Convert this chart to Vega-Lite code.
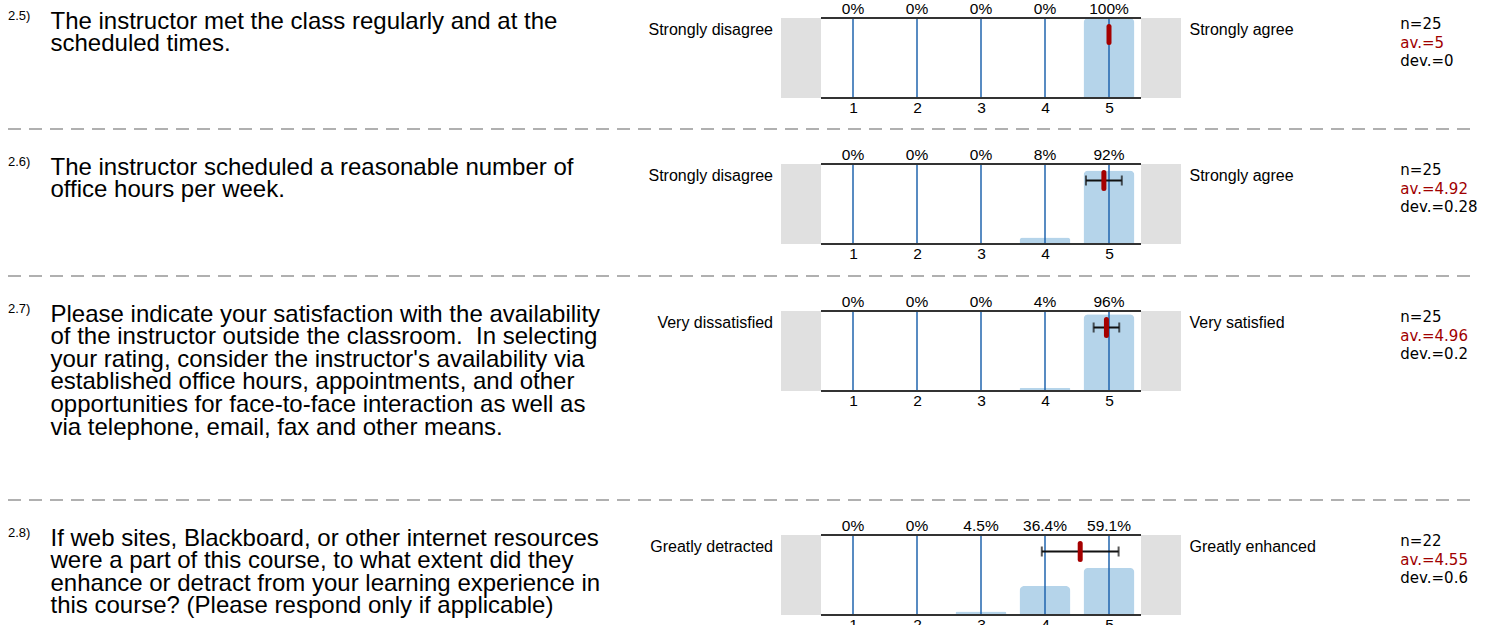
{
  "$schema": "https://vega.github.io/schema/vega-lite/v6.json",
  "padding": 0,
  "background": "#ffffff",
  "config": {"view": {"stroke": null}, "font": "Liberation Sans"},
  "datasets": {
    "questions": [
      {"q": "2.5", "num": "2.5)", "lines": ["The instructor met the class regularly and at the", "scheduled times."], "low": "Strongly disagree", "high": "Strongly agree", "nLabel": "n=25", "avLabel": "av.=5", "devLabel": "dev.=0", "av": 5, "dev": 0},
      {"q": "2.6", "num": "2.6)", "lines": ["The instructor scheduled a reasonable number of", "office hours per week."], "low": "Strongly disagree", "high": "Strongly agree", "nLabel": "n=25", "avLabel": "av.=4.92", "devLabel": "dev.=0.28", "av": 4.92, "dev": 0.28},
      {"q": "2.7", "num": "2.7)", "lines": ["Please indicate your satisfaction with the availability", "of the instructor outside the classroom.\u00a0 In selecting", "your rating, consider the instructor's availability via", "established office hours, appointments, and other", "opportunities for face-to-face interaction as well as", "via telephone, email, fax and other means."], "low": "Very dissatisfied", "high": "Very satisfied", "nLabel": "n=25", "avLabel": "av.=4.96", "devLabel": "dev.=0.2", "av": 4.96, "dev": 0.2},
      {"q": "2.8", "num": "2.8)", "lines": ["If web sites, Blackboard, or other internet resources", "were a part of this course, to what extent did they", "enhance or detract from your learning experience in", "this course? (Please respond only if applicable)"], "low": "Greatly detracted", "high": "Greatly enhanced", "nLabel": "n=22", "avLabel": "av.=4.55", "devLabel": "dev.=0.6", "av": 4.55, "dev": 0.6}
    ],
    "dist": [
      {"q": "2.5", "rating": 1, "pct": 0, "label": "0%"},
      {"q": "2.5", "rating": 2, "pct": 0, "label": "0%"},
      {"q": "2.5", "rating": 3, "pct": 0, "label": "0%"},
      {"q": "2.5", "rating": 4, "pct": 0, "label": "0%"},
      {"q": "2.5", "rating": 5, "pct": 100, "label": "100%"},
      {"q": "2.6", "rating": 1, "pct": 0, "label": "0%"},
      {"q": "2.6", "rating": 2, "pct": 0, "label": "0%"},
      {"q": "2.6", "rating": 3, "pct": 0, "label": "0%"},
      {"q": "2.6", "rating": 4, "pct": 8, "label": "8%"},
      {"q": "2.6", "rating": 5, "pct": 92, "label": "92%"},
      {"q": "2.7", "rating": 1, "pct": 0, "label": "0%"},
      {"q": "2.7", "rating": 2, "pct": 0, "label": "0%"},
      {"q": "2.7", "rating": 3, "pct": 0, "label": "0%"},
      {"q": "2.7", "rating": 4, "pct": 4, "label": "4%"},
      {"q": "2.7", "rating": 5, "pct": 96, "label": "96%"},
      {"q": "2.8", "rating": 1, "pct": 0, "label": "0%"},
      {"q": "2.8", "rating": 2, "pct": 0, "label": "0%"},
      {"q": "2.8", "rating": 3, "pct": 4.5, "label": "4.5%"},
      {"q": "2.8", "rating": 4, "pct": 36.4, "label": "36.4%"},
      {"q": "2.8", "rating": 5, "pct": 59.1, "label": "59.1%"}
    ]
  },
  "spacing": 0,
  "bounds": "full",
  "vconcat": [
    {
      "spacing": 0, "bounds": "full",
      "hconcat": [
        {
          "width": 780, "height": 128,
          "data": {"name": "questions"}, "transform": [{"filter": "datum.q === '2.5'"}],
          "layer": [
            {"mark": {"type": "text", "align": "left", "baseline": "alphabetic", "fontSize": 13, "color": "#000000"}, "encoding": {"x": {"value": 7}, "y": {"value": 20}, "text": {"field": "num", "type": "nominal"}}},
            {"mark": {"type": "text", "align": "left", "baseline": "alphabetic", "fontSize": 24, "lineHeight": 22.6, "color": "#000000"}, "encoding": {"x": {"value": 49.5}, "y": {"value": 28.7}, "text": {"field": "lines", "type": "nominal"}}},
            {"mark": {"type": "text", "align": "right", "baseline": "alphabetic", "fontSize": 16, "color": "#000000"}, "encoding": {"x": {"value": 772}, "y": {"value": 35}, "text": {"field": "low", "type": "nominal"}}}
          ]
        },
        {
          "spacing": 0, "bounds": "flush",
          "vconcat": [
            {
              "width": 400, "height": 17.5,
              "data": {"name": "dist"}, "transform": [{"filter": "datum.q === '2.5'"}],
              "mark": {"type": "text", "align": "center", "baseline": "alphabetic", "fontSize": 15.5, "color": "#000000"},
              "encoding": {"x": {"field": "rating", "type": "quantitative", "scale": {"domain": [-0.125, 6.125], "nice": false, "zero": false, "padding": 0}, "axis": null}, "y": {"value": 13.5}, "text": {"field": "label", "type": "nominal"}}
            },
            {
              "width": 400, "height": 80,
              "view": {"fill": "#e0e0e0", "stroke": null},
              "layer": [
                {"data": {"name": "questions"}, "transform": [{"filter": "datum.q === '2.5'"}], "mark": {"type": "rect", "color": "#ffffff"}, "encoding": {"x": {"datum": 0.5, "type": "quantitative", "scale": {"domain": [-0.125, 6.125], "nice": false, "zero": false, "padding": 0}, "axis": {"values": [1, 2, 3, 4, 5], "domain": false, "ticks": false, "tickSize": 0, "grid": false, "labelFontSize": 15.5, "labelColor": "#000000", "labelPadding": 2, "labelFlush": false, "labelOverlap": false, "title": null, "format": "d"}}, "x2": {"datum": 5.5}, "y": {"datum": 0, "type": "quantitative", "scale": {"domain": [0, 100], "nice": false}, "axis": null}, "y2": {"datum": 100}}},
                {"data": {"name": "dist"}, "transform": [{"filter": "datum.q === '2.5'"}], "mark": {"type": "bar", "width": 51, "color": "#b5d4ea", "cornerRadiusTopLeft": 5, "cornerRadiusTopRight": 5}, "encoding": {"x": {"field": "rating", "type": "quantitative", "scale": {"domain": [-0.125, 6.125], "nice": false, "zero": false, "padding": 0}, "axis": {"values": [1, 2, 3, 4, 5], "domain": false, "ticks": false, "tickSize": 0, "grid": false, "labelFontSize": 15.5, "labelColor": "#000000", "labelPadding": 2, "labelFlush": false, "labelOverlap": false, "title": null, "format": "d"}}, "y": {"field": "pct", "type": "quantitative", "scale": {"domain": [0, 100], "nice": false}, "axis": null}}},
                {"data": {"name": "dist"}, "transform": [{"filter": "datum.q === '2.5'"}], "mark": {"type": "rule", "color": "#2164ae", "strokeWidth": 1.5}, "encoding": {"x": {"field": "rating", "type": "quantitative", "scale": {"domain": [-0.125, 6.125], "nice": false, "zero": false, "padding": 0}, "axis": {"values": [1, 2, 3, 4, 5], "domain": false, "ticks": false, "tickSize": 0, "grid": false, "labelFontSize": 15.5, "labelColor": "#000000", "labelPadding": 2, "labelFlush": false, "labelOverlap": false, "title": null, "format": "d"}}}},
                {"data": {"name": "questions"}, "transform": [{"filter": "datum.q === '2.5'"}], "mark": {"type": "rule", "color": "#333333", "strokeWidth": 2}, "encoding": {"x": {"datum": 0.5, "type": "quantitative", "scale": {"domain": [-0.125, 6.125], "nice": false, "zero": false, "padding": 0}, "axis": {"values": [1, 2, 3, 4, 5], "domain": false, "ticks": false, "tickSize": 0, "grid": false, "labelFontSize": 15.5, "labelColor": "#000000", "labelPadding": 2, "labelFlush": false, "labelOverlap": false, "title": null, "format": "d"}}, "x2": {"datum": 5.5}, "y": {"datum": 100, "type": "quantitative", "scale": {"domain": [0, 100], "nice": false}, "axis": null}}},
                {"data": {"name": "questions"}, "transform": [{"filter": "datum.q === '2.5'"}], "mark": {"type": "rule", "color": "#333333", "strokeWidth": 2}, "encoding": {"x": {"datum": 0.5, "type": "quantitative", "scale": {"domain": [-0.125, 6.125], "nice": false, "zero": false, "padding": 0}, "axis": {"values": [1, 2, 3, 4, 5], "domain": false, "ticks": false, "tickSize": 0, "grid": false, "labelFontSize": 15.5, "labelColor": "#000000", "labelPadding": 2, "labelFlush": false, "labelOverlap": false, "title": null, "format": "d"}}, "x2": {"datum": 5.5}, "y": {"datum": 0, "type": "quantitative", "scale": {"domain": [0, 100], "nice": false}, "axis": null}}},
                {"data": {"name": "questions"}, "transform": [{"filter": "datum.q === '2.5'"}], "mark": {"type": "errorbar", "color": "#111111", "thickness": 2, "size": 10, "ticks": true}, "encoding": {"x": {"field": "av", "type": "quantitative", "scale": {"domain": [-0.125, 6.125], "nice": false, "zero": false, "padding": 0}, "axis": {"values": [1, 2, 3, 4, 5], "domain": false, "ticks": false, "tickSize": 0, "grid": false, "labelFontSize": 15.5, "labelColor": "#000000", "labelPadding": 2, "labelFlush": false, "labelOverlap": false, "title": null, "format": "d"}}, "xError": {"field": "dev"}, "y": {"value": 16.5}}},
                {"data": {"name": "questions"}, "transform": [{"filter": "datum.q === '2.5'"}], "mark": {"type": "rule", "color": "#a50000", "strokeWidth": 5, "strokeCap": "round"}, "encoding": {"x": {"field": "av", "type": "quantitative", "scale": {"domain": [-0.125, 6.125], "nice": false, "zero": false, "padding": 0}, "axis": {"values": [1, 2, 3, 4, 5], "domain": false, "ticks": false, "tickSize": 0, "grid": false, "labelFontSize": 15.5, "labelColor": "#000000", "labelPadding": 2, "labelFlush": false, "labelOverlap": false, "title": null, "format": "d"}}, "y": {"value": 8.5}, "y2": {"value": 24.5}}}
              ]
            }
          ]
        },
        {
          "width": 314, "height": 128,
          "data": {"name": "questions"}, "transform": [{"filter": "datum.q === '2.5'"}],
          "layer": [
            {"mark": {"type": "text", "align": "left", "baseline": "alphabetic", "fontSize": 16, "color": "#000000"}, "encoding": {"x": {"value": 8.5}, "y": {"value": 35}, "text": {"field": "high", "type": "nominal"}}},
            {"mark": {"type": "text", "align": "left", "baseline": "alphabetic", "font": "DejaVu Sans", "fontSize": 15, "color": "#000000"}, "encoding": {"x": {"value": 219.3}, "y": {"value": 28.7}, "text": {"field": "nLabel", "type": "nominal"}}},
            {"mark": {"type": "text", "align": "left", "baseline": "alphabetic", "font": "DejaVu Sans", "fontSize": 15, "color": "#a00000"}, "encoding": {"x": {"value": 219.3}, "y": {"value": 47.5}, "text": {"field": "avLabel", "type": "nominal"}}},
            {"mark": {"type": "text", "align": "left", "baseline": "alphabetic", "font": "DejaVu Sans", "fontSize": 15, "color": "#000000"}, "encoding": {"x": {"value": 219.3}, "y": {"value": 66.2}, "text": {"field": "devLabel", "type": "nominal"}}}
          ]
        }
      ]
    },
    {
      "width": 1471, "height": 18, "data": {"values": [{}]},
      "mark": {"type": "rule", "color": "#b0b0b0", "strokeWidth": 2, "strokeDash": [13, 8], "strokeDashOffset": 14},
      "encoding": {"x": {"value": 0}, "x2": {"value": "width"}, "y": {"value": 1}}
    },
    {
      "spacing": 0, "bounds": "full",
      "hconcat": [
        {
          "width": 780, "height": 129,
          "data": {"name": "questions"}, "transform": [{"filter": "datum.q === '2.6'"}],
          "layer": [
            {"mark": {"type": "text", "align": "left", "baseline": "alphabetic", "fontSize": 13, "color": "#000000"}, "encoding": {"x": {"value": 7}, "y": {"value": 20}, "text": {"field": "num", "type": "nominal"}}},
            {"mark": {"type": "text", "align": "left", "baseline": "alphabetic", "fontSize": 24, "lineHeight": 22.6, "color": "#000000"}, "encoding": {"x": {"value": 49.5}, "y": {"value": 28.7}, "text": {"field": "lines", "type": "nominal"}}},
            {"mark": {"type": "text", "align": "right", "baseline": "alphabetic", "fontSize": 16, "color": "#000000"}, "encoding": {"x": {"value": 772}, "y": {"value": 35}, "text": {"field": "low", "type": "nominal"}}}
          ]
        },
        {
          "spacing": 0, "bounds": "flush",
          "vconcat": [
            {
              "width": 400, "height": 17.5,
              "data": {"name": "dist"}, "transform": [{"filter": "datum.q === '2.6'"}],
              "mark": {"type": "text", "align": "center", "baseline": "alphabetic", "fontSize": 15.5, "color": "#000000"},
              "encoding": {"x": {"field": "rating", "type": "quantitative", "scale": {"domain": [-0.125, 6.125], "nice": false, "zero": false, "padding": 0}, "axis": null}, "y": {"value": 13.5}, "text": {"field": "label", "type": "nominal"}}
            },
            {
              "width": 400, "height": 80,
              "view": {"fill": "#e0e0e0", "stroke": null},
              "layer": [
                {"data": {"name": "questions"}, "transform": [{"filter": "datum.q === '2.6'"}], "mark": {"type": "rect", "color": "#ffffff"}, "encoding": {"x": {"datum": 0.5, "type": "quantitative", "scale": {"domain": [-0.125, 6.125], "nice": false, "zero": false, "padding": 0}, "axis": {"values": [1, 2, 3, 4, 5], "domain": false, "ticks": false, "tickSize": 0, "grid": false, "labelFontSize": 15.5, "labelColor": "#000000", "labelPadding": 2, "labelFlush": false, "labelOverlap": false, "title": null, "format": "d"}}, "x2": {"datum": 5.5}, "y": {"datum": 0, "type": "quantitative", "scale": {"domain": [0, 100], "nice": false}, "axis": null}, "y2": {"datum": 100}}},
                {"data": {"name": "dist"}, "transform": [{"filter": "datum.q === '2.6'"}], "mark": {"type": "bar", "width": 51, "color": "#b5d4ea", "cornerRadiusTopLeft": 5, "cornerRadiusTopRight": 5}, "encoding": {"x": {"field": "rating", "type": "quantitative", "scale": {"domain": [-0.125, 6.125], "nice": false, "zero": false, "padding": 0}, "axis": {"values": [1, 2, 3, 4, 5], "domain": false, "ticks": false, "tickSize": 0, "grid": false, "labelFontSize": 15.5, "labelColor": "#000000", "labelPadding": 2, "labelFlush": false, "labelOverlap": false, "title": null, "format": "d"}}, "y": {"field": "pct", "type": "quantitative", "scale": {"domain": [0, 100], "nice": false}, "axis": null}}},
                {"data": {"name": "dist"}, "transform": [{"filter": "datum.q === '2.6'"}], "mark": {"type": "rule", "color": "#2164ae", "strokeWidth": 1.5}, "encoding": {"x": {"field": "rating", "type": "quantitative", "scale": {"domain": [-0.125, 6.125], "nice": false, "zero": false, "padding": 0}, "axis": {"values": [1, 2, 3, 4, 5], "domain": false, "ticks": false, "tickSize": 0, "grid": false, "labelFontSize": 15.5, "labelColor": "#000000", "labelPadding": 2, "labelFlush": false, "labelOverlap": false, "title": null, "format": "d"}}}},
                {"data": {"name": "questions"}, "transform": [{"filter": "datum.q === '2.6'"}], "mark": {"type": "rule", "color": "#333333", "strokeWidth": 2}, "encoding": {"x": {"datum": 0.5, "type": "quantitative", "scale": {"domain": [-0.125, 6.125], "nice": false, "zero": false, "padding": 0}, "axis": {"values": [1, 2, 3, 4, 5], "domain": false, "ticks": false, "tickSize": 0, "grid": false, "labelFontSize": 15.5, "labelColor": "#000000", "labelPadding": 2, "labelFlush": false, "labelOverlap": false, "title": null, "format": "d"}}, "x2": {"datum": 5.5}, "y": {"datum": 100, "type": "quantitative", "scale": {"domain": [0, 100], "nice": false}, "axis": null}}},
                {"data": {"name": "questions"}, "transform": [{"filter": "datum.q === '2.6'"}], "mark": {"type": "rule", "color": "#333333", "strokeWidth": 2}, "encoding": {"x": {"datum": 0.5, "type": "quantitative", "scale": {"domain": [-0.125, 6.125], "nice": false, "zero": false, "padding": 0}, "axis": {"values": [1, 2, 3, 4, 5], "domain": false, "ticks": false, "tickSize": 0, "grid": false, "labelFontSize": 15.5, "labelColor": "#000000", "labelPadding": 2, "labelFlush": false, "labelOverlap": false, "title": null, "format": "d"}}, "x2": {"datum": 5.5}, "y": {"datum": 0, "type": "quantitative", "scale": {"domain": [0, 100], "nice": false}, "axis": null}}},
                {"data": {"name": "questions"}, "transform": [{"filter": "datum.q === '2.6'"}], "mark": {"type": "errorbar", "color": "#111111", "thickness": 2, "size": 10, "ticks": true}, "encoding": {"x": {"field": "av", "type": "quantitative", "scale": {"domain": [-0.125, 6.125], "nice": false, "zero": false, "padding": 0}, "axis": {"values": [1, 2, 3, 4, 5], "domain": false, "ticks": false, "tickSize": 0, "grid": false, "labelFontSize": 15.5, "labelColor": "#000000", "labelPadding": 2, "labelFlush": false, "labelOverlap": false, "title": null, "format": "d"}}, "xError": {"field": "dev"}, "y": {"value": 16.5}}},
                {"data": {"name": "questions"}, "transform": [{"filter": "datum.q === '2.6'"}], "mark": {"type": "rule", "color": "#a50000", "strokeWidth": 5, "strokeCap": "round"}, "encoding": {"x": {"field": "av", "type": "quantitative", "scale": {"domain": [-0.125, 6.125], "nice": false, "zero": false, "padding": 0}, "axis": {"values": [1, 2, 3, 4, 5], "domain": false, "ticks": false, "tickSize": 0, "grid": false, "labelFontSize": 15.5, "labelColor": "#000000", "labelPadding": 2, "labelFlush": false, "labelOverlap": false, "title": null, "format": "d"}}, "y": {"value": 8.5}, "y2": {"value": 24.5}}}
              ]
            }
          ]
        },
        {
          "width": 314, "height": 129,
          "data": {"name": "questions"}, "transform": [{"filter": "datum.q === '2.6'"}],
          "layer": [
            {"mark": {"type": "text", "align": "left", "baseline": "alphabetic", "fontSize": 16, "color": "#000000"}, "encoding": {"x": {"value": 8.5}, "y": {"value": 35}, "text": {"field": "high", "type": "nominal"}}},
            {"mark": {"type": "text", "align": "left", "baseline": "alphabetic", "font": "DejaVu Sans", "fontSize": 15, "color": "#000000"}, "encoding": {"x": {"value": 219.3}, "y": {"value": 28.7}, "text": {"field": "nLabel", "type": "nominal"}}},
            {"mark": {"type": "text", "align": "left", "baseline": "alphabetic", "font": "DejaVu Sans", "fontSize": 15, "color": "#a00000"}, "encoding": {"x": {"value": 219.3}, "y": {"value": 47.5}, "text": {"field": "avLabel", "type": "nominal"}}},
            {"mark": {"type": "text", "align": "left", "baseline": "alphabetic", "font": "DejaVu Sans", "fontSize": 15, "color": "#000000"}, "encoding": {"x": {"value": 219.3}, "y": {"value": 66.2}, "text": {"field": "devLabel", "type": "nominal"}}}
          ]
        }
      ]
    },
    {
      "width": 1471, "height": 18, "data": {"values": [{}]},
      "mark": {"type": "rule", "color": "#b0b0b0", "strokeWidth": 2, "strokeDash": [13, 8], "strokeDashOffset": 14},
      "encoding": {"x": {"value": 0}, "x2": {"value": "width"}, "y": {"value": 1}}
    },
    {
      "spacing": 0, "bounds": "full",
      "hconcat": [
        {
          "width": 780, "height": 206,
          "data": {"name": "questions"}, "transform": [{"filter": "datum.q === '2.7'"}],
          "layer": [
            {"mark": {"type": "text", "align": "left", "baseline": "alphabetic", "fontSize": 13, "color": "#000000"}, "encoding": {"x": {"value": 7}, "y": {"value": 20}, "text": {"field": "num", "type": "nominal"}}},
            {"mark": {"type": "text", "align": "left", "baseline": "alphabetic", "fontSize": 24, "lineHeight": 22.6, "color": "#000000"}, "encoding": {"x": {"value": 49.5}, "y": {"value": 28.7}, "text": {"field": "lines", "type": "nominal"}}},
            {"mark": {"type": "text", "align": "right", "baseline": "alphabetic", "fontSize": 16, "color": "#000000"}, "encoding": {"x": {"value": 772}, "y": {"value": 35}, "text": {"field": "low", "type": "nominal"}}}
          ]
        },
        {
          "spacing": 0, "bounds": "flush",
          "vconcat": [
            {
              "width": 400, "height": 17.5,
              "data": {"name": "dist"}, "transform": [{"filter": "datum.q === '2.7'"}],
              "mark": {"type": "text", "align": "center", "baseline": "alphabetic", "fontSize": 15.5, "color": "#000000"},
              "encoding": {"x": {"field": "rating", "type": "quantitative", "scale": {"domain": [-0.125, 6.125], "nice": false, "zero": false, "padding": 0}, "axis": null}, "y": {"value": 13.5}, "text": {"field": "label", "type": "nominal"}}
            },
            {
              "width": 400, "height": 80,
              "view": {"fill": "#e0e0e0", "stroke": null},
              "layer": [
                {"data": {"name": "questions"}, "transform": [{"filter": "datum.q === '2.7'"}], "mark": {"type": "rect", "color": "#ffffff"}, "encoding": {"x": {"datum": 0.5, "type": "quantitative", "scale": {"domain": [-0.125, 6.125], "nice": false, "zero": false, "padding": 0}, "axis": {"values": [1, 2, 3, 4, 5], "domain": false, "ticks": false, "tickSize": 0, "grid": false, "labelFontSize": 15.5, "labelColor": "#000000", "labelPadding": 2, "labelFlush": false, "labelOverlap": false, "title": null, "format": "d"}}, "x2": {"datum": 5.5}, "y": {"datum": 0, "type": "quantitative", "scale": {"domain": [0, 100], "nice": false}, "axis": null}, "y2": {"datum": 100}}},
                {"data": {"name": "dist"}, "transform": [{"filter": "datum.q === '2.7'"}], "mark": {"type": "bar", "width": 51, "color": "#b5d4ea", "cornerRadiusTopLeft": 5, "cornerRadiusTopRight": 5}, "encoding": {"x": {"field": "rating", "type": "quantitative", "scale": {"domain": [-0.125, 6.125], "nice": false, "zero": false, "padding": 0}, "axis": {"values": [1, 2, 3, 4, 5], "domain": false, "ticks": false, "tickSize": 0, "grid": false, "labelFontSize": 15.5, "labelColor": "#000000", "labelPadding": 2, "labelFlush": false, "labelOverlap": false, "title": null, "format": "d"}}, "y": {"field": "pct", "type": "quantitative", "scale": {"domain": [0, 100], "nice": false}, "axis": null}}},
                {"data": {"name": "dist"}, "transform": [{"filter": "datum.q === '2.7'"}], "mark": {"type": "rule", "color": "#2164ae", "strokeWidth": 1.5}, "encoding": {"x": {"field": "rating", "type": "quantitative", "scale": {"domain": [-0.125, 6.125], "nice": false, "zero": false, "padding": 0}, "axis": {"values": [1, 2, 3, 4, 5], "domain": false, "ticks": false, "tickSize": 0, "grid": false, "labelFontSize": 15.5, "labelColor": "#000000", "labelPadding": 2, "labelFlush": false, "labelOverlap": false, "title": null, "format": "d"}}}},
                {"data": {"name": "questions"}, "transform": [{"filter": "datum.q === '2.7'"}], "mark": {"type": "rule", "color": "#333333", "strokeWidth": 2}, "encoding": {"x": {"datum": 0.5, "type": "quantitative", "scale": {"domain": [-0.125, 6.125], "nice": false, "zero": false, "padding": 0}, "axis": {"values": [1, 2, 3, 4, 5], "domain": false, "ticks": false, "tickSize": 0, "grid": false, "labelFontSize": 15.5, "labelColor": "#000000", "labelPadding": 2, "labelFlush": false, "labelOverlap": false, "title": null, "format": "d"}}, "x2": {"datum": 5.5}, "y": {"datum": 100, "type": "quantitative", "scale": {"domain": [0, 100], "nice": false}, "axis": null}}},
                {"data": {"name": "questions"}, "transform": [{"filter": "datum.q === '2.7'"}], "mark": {"type": "rule", "color": "#333333", "strokeWidth": 2}, "encoding": {"x": {"datum": 0.5, "type": "quantitative", "scale": {"domain": [-0.125, 6.125], "nice": false, "zero": false, "padding": 0}, "axis": {"values": [1, 2, 3, 4, 5], "domain": false, "ticks": false, "tickSize": 0, "grid": false, "labelFontSize": 15.5, "labelColor": "#000000", "labelPadding": 2, "labelFlush": false, "labelOverlap": false, "title": null, "format": "d"}}, "x2": {"datum": 5.5}, "y": {"datum": 0, "type": "quantitative", "scale": {"domain": [0, 100], "nice": false}, "axis": null}}},
                {"data": {"name": "questions"}, "transform": [{"filter": "datum.q === '2.7'"}], "mark": {"type": "errorbar", "color": "#111111", "thickness": 2, "size": 10, "ticks": true}, "encoding": {"x": {"field": "av", "type": "quantitative", "scale": {"domain": [-0.125, 6.125], "nice": false, "zero": false, "padding": 0}, "axis": {"values": [1, 2, 3, 4, 5], "domain": false, "ticks": false, "tickSize": 0, "grid": false, "labelFontSize": 15.5, "labelColor": "#000000", "labelPadding": 2, "labelFlush": false, "labelOverlap": false, "title": null, "format": "d"}}, "xError": {"field": "dev"}, "y": {"value": 16.5}}},
                {"data": {"name": "questions"}, "transform": [{"filter": "datum.q === '2.7'"}], "mark": {"type": "rule", "color": "#a50000", "strokeWidth": 5, "strokeCap": "round"}, "encoding": {"x": {"field": "av", "type": "quantitative", "scale": {"domain": [-0.125, 6.125], "nice": false, "zero": false, "padding": 0}, "axis": {"values": [1, 2, 3, 4, 5], "domain": false, "ticks": false, "tickSize": 0, "grid": false, "labelFontSize": 15.5, "labelColor": "#000000", "labelPadding": 2, "labelFlush": false, "labelOverlap": false, "title": null, "format": "d"}}, "y": {"value": 8.5}, "y2": {"value": 24.5}}}
              ]
            }
          ]
        },
        {
          "width": 314, "height": 206,
          "data": {"name": "questions"}, "transform": [{"filter": "datum.q === '2.7'"}],
          "layer": [
            {"mark": {"type": "text", "align": "left", "baseline": "alphabetic", "fontSize": 16, "color": "#000000"}, "encoding": {"x": {"value": 8.5}, "y": {"value": 35}, "text": {"field": "high", "type": "nominal"}}},
            {"mark": {"type": "text", "align": "left", "baseline": "alphabetic", "font": "DejaVu Sans", "fontSize": 15, "color": "#000000"}, "encoding": {"x": {"value": 219.3}, "y": {"value": 28.7}, "text": {"field": "nLabel", "type": "nominal"}}},
            {"mark": {"type": "text", "align": "left", "baseline": "alphabetic", "font": "DejaVu Sans", "fontSize": 15, "color": "#a00000"}, "encoding": {"x": {"value": 219.3}, "y": {"value": 47.5}, "text": {"field": "avLabel", "type": "nominal"}}},
            {"mark": {"type": "text", "align": "left", "baseline": "alphabetic", "font": "DejaVu Sans", "fontSize": 15, "color": "#000000"}, "encoding": {"x": {"value": 219.3}, "y": {"value": 66.2}, "text": {"field": "devLabel", "type": "nominal"}}}
          ]
        }
      ]
    },
    {
      "width": 1471, "height": 18, "data": {"values": [{}]},
      "mark": {"type": "rule", "color": "#b0b0b0", "strokeWidth": 2, "strokeDash": [13, 8], "strokeDashOffset": 14},
      "encoding": {"x": {"value": 0}, "x2": {"value": "width"}, "y": {"value": 1}}
    },
    {
      "spacing": 0, "bounds": "full",
      "hconcat": [
        {
          "width": 780, "height": 108,
          "data": {"name": "questions"}, "transform": [{"filter": "datum.q === '2.8'"}],
          "layer": [
            {"mark": {"type": "text", "align": "left", "baseline": "alphabetic", "fontSize": 13, "color": "#000000"}, "encoding": {"x": {"value": 7}, "y": {"value": 20}, "text": {"field": "num", "type": "nominal"}}},
            {"mark": {"type": "text", "align": "left", "baseline": "alphabetic", "fontSize": 24, "lineHeight": 22.6, "color": "#000000"}, "encoding": {"x": {"value": 49.5}, "y": {"value": 28.7}, "text": {"field": "lines", "type": "nominal"}}},
            {"mark": {"type": "text", "align": "right", "baseline": "alphabetic", "fontSize": 16, "color": "#000000"}, "encoding": {"x": {"value": 772}, "y": {"value": 35}, "text": {"field": "low", "type": "nominal"}}}
          ]
        },
        {
          "spacing": 0, "bounds": "flush",
          "vconcat": [
            {
              "width": 400, "height": 17.5,
              "data": {"name": "dist"}, "transform": [{"filter": "datum.q === '2.8'"}],
              "mark": {"type": "text", "align": "center", "baseline": "alphabetic", "fontSize": 15.5, "color": "#000000"},
              "encoding": {"x": {"field": "rating", "type": "quantitative", "scale": {"domain": [-0.125, 6.125], "nice": false, "zero": false, "padding": 0}, "axis": null}, "y": {"value": 13.5}, "text": {"field": "label", "type": "nominal"}}
            },
            {
              "width": 400, "height": 80,
              "view": {"fill": "#e0e0e0", "stroke": null},
              "layer": [
                {"data": {"name": "questions"}, "transform": [{"filter": "datum.q === '2.8'"}], "mark": {"type": "rect", "color": "#ffffff"}, "encoding": {"x": {"datum": 0.5, "type": "quantitative", "scale": {"domain": [-0.125, 6.125], "nice": false, "zero": false, "padding": 0}, "axis": {"values": [1, 2, 3, 4, 5], "domain": false, "ticks": false, "tickSize": 0, "grid": false, "labelFontSize": 15.5, "labelColor": "#000000", "labelPadding": 2, "labelFlush": false, "labelOverlap": false, "title": null, "format": "d"}}, "x2": {"datum": 5.5}, "y": {"datum": 0, "type": "quantitative", "scale": {"domain": [0, 100], "nice": false}, "axis": null}, "y2": {"datum": 100}}},
                {"data": {"name": "dist"}, "transform": [{"filter": "datum.q === '2.8'"}], "mark": {"type": "bar", "width": 51, "color": "#b5d4ea", "cornerRadiusTopLeft": 5, "cornerRadiusTopRight": 5}, "encoding": {"x": {"field": "rating", "type": "quantitative", "scale": {"domain": [-0.125, 6.125], "nice": false, "zero": false, "padding": 0}, "axis": {"values": [1, 2, 3, 4, 5], "domain": false, "ticks": false, "tickSize": 0, "grid": false, "labelFontSize": 15.5, "labelColor": "#000000", "labelPadding": 2, "labelFlush": false, "labelOverlap": false, "title": null, "format": "d"}}, "y": {"field": "pct", "type": "quantitative", "scale": {"domain": [0, 100], "nice": false}, "axis": null}}},
                {"data": {"name": "dist"}, "transform": [{"filter": "datum.q === '2.8'"}], "mark": {"type": "rule", "color": "#2164ae", "strokeWidth": 1.5}, "encoding": {"x": {"field": "rating", "type": "quantitative", "scale": {"domain": [-0.125, 6.125], "nice": false, "zero": false, "padding": 0}, "axis": {"values": [1, 2, 3, 4, 5], "domain": false, "ticks": false, "tickSize": 0, "grid": false, "labelFontSize": 15.5, "labelColor": "#000000", "labelPadding": 2, "labelFlush": false, "labelOverlap": false, "title": null, "format": "d"}}}},
                {"data": {"name": "questions"}, "transform": [{"filter": "datum.q === '2.8'"}], "mark": {"type": "rule", "color": "#333333", "strokeWidth": 2}, "encoding": {"x": {"datum": 0.5, "type": "quantitative", "scale": {"domain": [-0.125, 6.125], "nice": false, "zero": false, "padding": 0}, "axis": {"values": [1, 2, 3, 4, 5], "domain": false, "ticks": false, "tickSize": 0, "grid": false, "labelFontSize": 15.5, "labelColor": "#000000", "labelPadding": 2, "labelFlush": false, "labelOverlap": false, "title": null, "format": "d"}}, "x2": {"datum": 5.5}, "y": {"datum": 100, "type": "quantitative", "scale": {"domain": [0, 100], "nice": false}, "axis": null}}},
                {"data": {"name": "questions"}, "transform": [{"filter": "datum.q === '2.8'"}], "mark": {"type": "rule", "color": "#333333", "strokeWidth": 2}, "encoding": {"x": {"datum": 0.5, "type": "quantitative", "scale": {"domain": [-0.125, 6.125], "nice": false, "zero": false, "padding": 0}, "axis": {"values": [1, 2, 3, 4, 5], "domain": false, "ticks": false, "tickSize": 0, "grid": false, "labelFontSize": 15.5, "labelColor": "#000000", "labelPadding": 2, "labelFlush": false, "labelOverlap": false, "title": null, "format": "d"}}, "x2": {"datum": 5.5}, "y": {"datum": 0, "type": "quantitative", "scale": {"domain": [0, 100], "nice": false}, "axis": null}}},
                {"data": {"name": "questions"}, "transform": [{"filter": "datum.q === '2.8'"}], "mark": {"type": "errorbar", "color": "#111111", "thickness": 2, "size": 10, "ticks": true}, "encoding": {"x": {"field": "av", "type": "quantitative", "scale": {"domain": [-0.125, 6.125], "nice": false, "zero": false, "padding": 0}, "axis": {"values": [1, 2, 3, 4, 5], "domain": false, "ticks": false, "tickSize": 0, "grid": false, "labelFontSize": 15.5, "labelColor": "#000000", "labelPadding": 2, "labelFlush": false, "labelOverlap": false, "title": null, "format": "d"}}, "xError": {"field": "dev"}, "y": {"value": 16.5}}},
                {"data": {"name": "questions"}, "transform": [{"filter": "datum.q === '2.8'"}], "mark": {"type": "rule", "color": "#a50000", "strokeWidth": 5, "strokeCap": "round"}, "encoding": {"x": {"field": "av", "type": "quantitative", "scale": {"domain": [-0.125, 6.125], "nice": false, "zero": false, "padding": 0}, "axis": {"values": [1, 2, 3, 4, 5], "domain": false, "ticks": false, "tickSize": 0, "grid": false, "labelFontSize": 15.5, "labelColor": "#000000", "labelPadding": 2, "labelFlush": false, "labelOverlap": false, "title": null, "format": "d"}}, "y": {"value": 8.5}, "y2": {"value": 24.5}}}
              ]
            }
          ]
        },
        {
          "width": 314, "height": 108,
          "data": {"name": "questions"}, "transform": [{"filter": "datum.q === '2.8'"}],
          "layer": [
            {"mark": {"type": "text", "align": "left", "baseline": "alphabetic", "fontSize": 16, "color": "#000000"}, "encoding": {"x": {"value": 8.5}, "y": {"value": 35}, "text": {"field": "high", "type": "nominal"}}},
            {"mark": {"type": "text", "align": "left", "baseline": "alphabetic", "font": "DejaVu Sans", "fontSize": 15, "color": "#000000"}, "encoding": {"x": {"value": 219.3}, "y": {"value": 28.7}, "text": {"field": "nLabel", "type": "nominal"}}},
            {"mark": {"type": "text", "align": "left", "baseline": "alphabetic", "font": "DejaVu Sans", "fontSize": 15, "color": "#a00000"}, "encoding": {"x": {"value": 219.3}, "y": {"value": 47.5}, "text": {"field": "avLabel", "type": "nominal"}}},
            {"mark": {"type": "text", "align": "left", "baseline": "alphabetic", "font": "DejaVu Sans", "fontSize": 15, "color": "#000000"}, "encoding": {"x": {"value": 219.3}, "y": {"value": 66.2}, "text": {"field": "devLabel", "type": "nominal"}}}
          ]
        }
      ]
    }
  ]
}
